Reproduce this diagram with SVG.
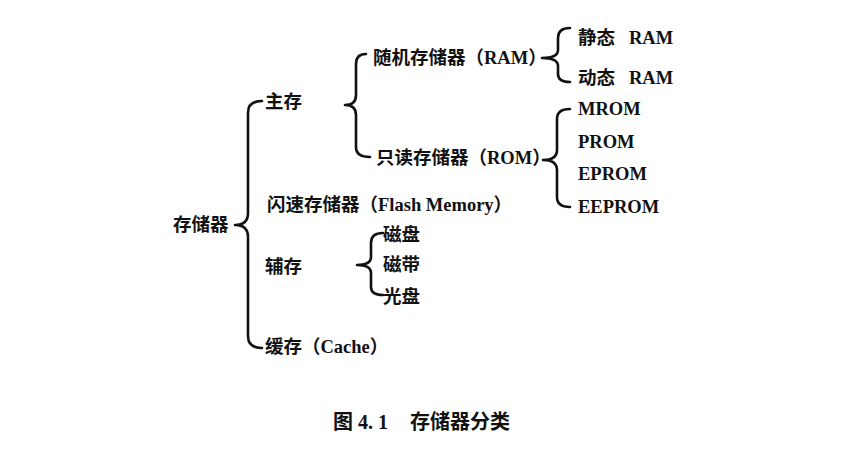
<svg xmlns="http://www.w3.org/2000/svg" width="857" height="476" viewBox="0 0 857 476">
<style>
.t{font-family:"Liberation Serif","Noto Sans CJK SC",serif;font-weight:bold;font-size:18.5px;fill:#111;dominant-baseline:central}
.c{font-size:20px}
.b{fill:none;stroke:#111;stroke-width:2.6;stroke-linecap:round;stroke-linejoin:round}
</style>
<rect width="857" height="476" fill="#fff"/>
<g id="connectors">
<path class="b" d="M262,101 Q248,101 248,113 L248,213 Q248,225 235,225 Q248,225 248,237 L248,336 Q248,348 262,348"/>
<path class="b" d="M366,54 Q356,54 356,64 L356,95 Q356,105 345,105 Q356,105 356,115 L356,147 Q356,157 370,157"/>
<path class="b" d="M570,28 Q558,28 558,38 L558,50 Q558,58 542,58 Q558,58 558,66 L558,74 Q558,82 570,82"/>
<path class="b" d="M570,109 Q557,109 557,119 L557,150 Q557,160 543,160 Q557,160 557,170 L557,197 Q557,207 570,207"/>
<path class="b" d="M383,233 Q371,233 371,243 L371,257 Q371,265 357,265 Q371,265 371,273 L371,287 Q371,295 383,295"/>
</g>
<g id="root"><text class="t" x="173" y="225">存储器</text></g>
<g id="main"><text class="t" x="265" y="102">主存</text></g>
<g id="flash"><text class="t" x="267" y="205">闪速存储器（Flash Memory）</text></g>
<g id="aux"><text class="t" x="265" y="267">辅存</text></g>
<g id="cache"><text class="t" x="265" y="347">缓存（Cache）</text></g>
<g id="ram"><text class="t" x="373" y="58">随机存储器（RAM）</text></g>
<g id="rom"><text class="t" x="376" y="158">只读存储器（ROM）</text></g>
<g id="sram"><text class="t" x="578" y="38">静态 <tspan x="629">RAM</tspan></text></g>
<g id="dram"><text class="t" x="578" y="78">动态 <tspan x="629">RAM</tspan></text></g>
<g id="mrom"><text class="t" x="578" y="109">MROM</text></g>
<g id="prom"><text class="t" x="578" y="142">PROM</text></g>
<g id="eprom"><text class="t" x="578" y="174">EPROM</text></g>
<g id="eeprom"><text class="t" x="578" y="207">EEPROM</text></g>
<g id="disk"><text class="t" x="383" y="235">磁盘</text></g>
<g id="tape"><text class="t" x="383" y="265">磁带</text></g>
<g id="optical"><text class="t" x="383" y="297">光盘</text></g>
<g id="caption"><text class="t c" x="333" y="422">图 4. 1</text><text class="t c" x="410" y="422">存储器分类</text></g>
</svg>
